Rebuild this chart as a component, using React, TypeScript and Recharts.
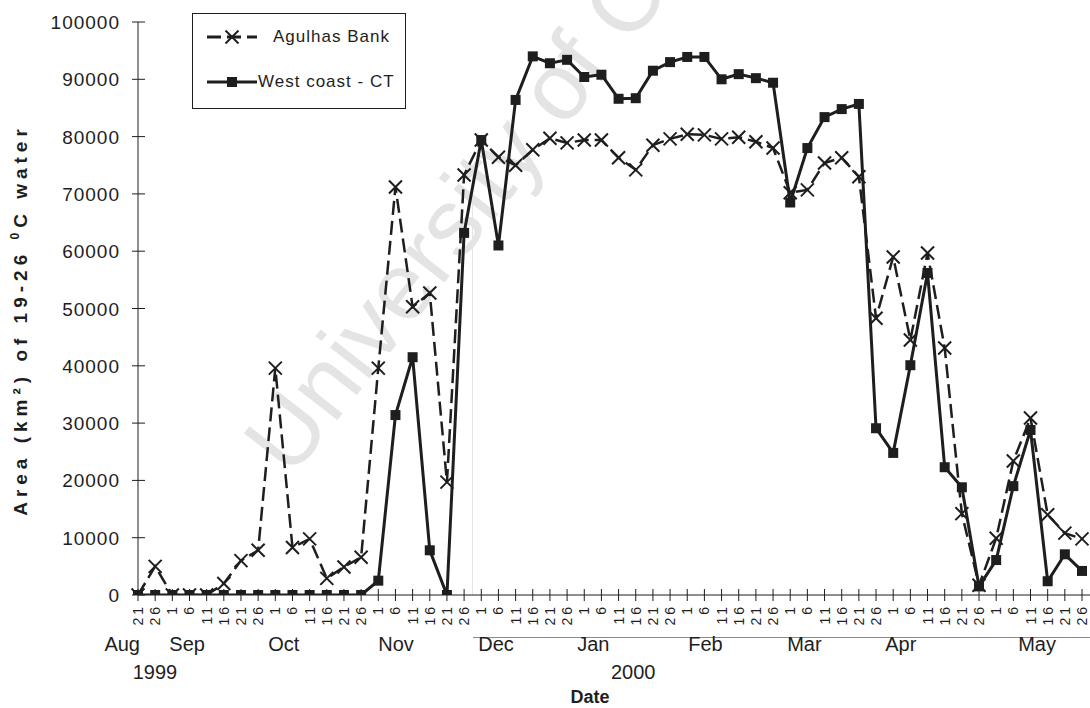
import React from "react";
import { Line, LineChart, XAxis, YAxis } from "recharts";

const dates = [
  "Aug 21", "Aug 26",
  "Sep 1", "Sep 6", "Sep 11", "Sep 16", "Sep 21", "Sep 26",
  "Oct 1", "Oct 6", "Oct 11", "Oct 16", "Oct 21", "Oct 26",
  "Nov 1", "Nov 6", "Nov 11", "Nov 16", "Nov 21", "Nov 26",
  "Dec 1", "Dec 6", "Dec 11", "Dec 16", "Dec 21", "Dec 26",
  "Jan 1", "Jan 6", "Jan 11", "Jan 16", "Jan 21", "Jan 26",
  "Feb 1", "Feb 6", "Feb 11", "Feb 16", "Feb 21", "Feb 26",
  "Mar 1", "Mar 6", "Mar 11", "Mar 16", "Mar 21", "Mar 26",
  "Apr 1", "Apr 6", "Apr 11", "Apr 16", "Apr 21", "Apr 26",
  "May 1", "May 6", "May 11", "May 16", "May 21", "May 26",
];

const agulhasBank = [
  0, 5000, 0, 0, 0, 2000, 6000, 7800,
  39600, 8300, 9800, 2900, 4900, 6600,
  39600, 71200, 50300, 52700, 19700, 73300,
  79400, 76400, 75000, 77700, 79700, 78900,
  79400, 79400, 76300, 74200, 78500, 79600,
  80400, 80300, 79600, 79900, 79100, 78000,
  70200, 70700, 75400, 76300, 73000, 48300,
  59000, 44500, 59700, 43100, 14200, 1700,
  9900, 23400, 30900, 14000, 10800, 9800,
];

const westCoastCT = [
  0, 0, 0, 0, 0, 0, 0, 0,
  0, 0, 0, 0, 0, 0,
  2500, 31400, 41500, 7800, 0, 63200,
  79400, 61000, 86400, 94000, 92800, 93400,
  90400, 90800, 86600, 86700, 91500, 93000,
  93900, 93900, 90000, 90900, 90200, 89400,
  68500, 78000, 83400, 84800, 85700, 29100,
  24800, 40100, 56200, 22300, 18800, 1500,
  6100, 19000, 28800, 2400, 7100, 4200,
];

const yTicks = [0, 10000, 20000, 30000, 40000, 50000, 60000, 70000, 80000, 90000, 100000];

const seriesNames = ["Agulhas Bank", "West coast - CT"];

// month names under the day ticks, hung on the first tick of each month
const monthLabels: Record<string, { text: string; dx: number; anchor: "start" | "end" }> = {
  "Aug 21": { text: "Aug", dx: 2, anchor: "end" },
  "Sep 1": { text: "Sep", dx: -3, anchor: "start" },
  "Oct 1": { text: "Oct", dx: -7, anchor: "start" },
  "Nov 1": { text: "Nov", dx: 0, anchor: "start" },
  "Dec 1": { text: "Dec", dx: -3, anchor: "start" },
  "Jan 1": { text: "Jan", dx: -7, anchor: "start" },
  "Feb 1": { text: "Feb", dx: 1, anchor: "start" },
  "Mar 1": { text: "Mar", dx: -3, anchor: "start" },
  "Apr 1": { text: "Apr", dx: -8, anchor: "start" },
  "May 1": { text: "May", dx: 22, anchor: "start" },
};

const yearLabels: Record<string, { text: string; dx: number }> = {
  "Aug 21": { text: "1999", dx: 17 },
  "Jan 1": { text: "2000", dx: 49 },
};

const data = dates.map((date, i) => ({
  date,
  agulhas: agulhasBank[i],
  west: westCoastCT[i],
}));

const INK = "#1e1e1e";
const FONT = "'Liberation Sans', Arial, Helvetica, sans-serif";

function CrossDot({ cx, cy }: any) {
  if (cx == null || cy == null) return null;
  const s = 6.5;
  return (
    <g stroke={INK} strokeWidth={2}>
      <line x1={cx - s} y1={cy - s} x2={cx + s} y2={cy + s} />
      <line x1={cx - s} y1={cy + s} x2={cx + s} y2={cy - s} />
    </g>
  );
}

function SquareDot({ cx, cy }: any) {
  if (cx == null || cy == null) return null;
  return <rect x={cx - 5} y={cy - 5} width={10} height={10} fill={INK} />;
}

function DayTick({ x, y, payload }: any) {
  const label: string = payload.value;
  const day = label.split(" ")[1];
  const month = monthLabels[label];
  const year = yearLabels[label];
  return (
    <g fontFamily={FONT} fill={INK}>
      <line x1={x} x2={x} y1={y - 6} y2={y + 6} stroke={INK} strokeWidth={1} />
      <text
        transform={`translate(${x + 5},${y + 9}) rotate(-90)`}
        textAnchor="end"
        fontSize={14}
        letterSpacing={3}
      >
        {day}
      </text>
      {month && (
        <text x={x + month.dx} y={y + 56} textAnchor={month.anchor} fontSize={20}>
          {month.text}
        </text>
      )}
      {year && (
        <text x={x + year.dx} y={y + 84} textAnchor="middle" fontSize={20}>
          {year.text}
        </text>
      )}
    </g>
  );
}

function AreaTick({ x, y, payload }: any) {
  return (
    <g fontFamily={FONT} fill={INK}>
      <line x1={x - 6} x2={x + 7} y1={y} y2={y} stroke={INK} strokeWidth={1} />
      <text x={x - 18} y={y + 7} textAnchor="end" fontSize={19} letterSpacing={1}>
        {payload.value}
      </text>
    </g>
  );
}

function LegendBox() {
  return (
    <div
      style={{
        position: "absolute",
        left: 192,
        top: 13,
        border: `1px solid ${INK}`,
        width: 214,
        height: 96,
        boxSizing: "border-box",
        fontFamily: FONT,
        fontSize: 17,
        color: INK,
      }}
    >
      {seriesNames.map((name, i) => {
        const isCross = i === 0;
        const top = i === 0 ? 10 : 55;
        return (
          <div key={name} style={{ position: "absolute", left: 14, top, height: 26, whiteSpace: "nowrap" }}>
            <svg width={52} height={26} style={{ position: "absolute", left: 0, top: 0 }}>
              <line x1={0} x2={50} y1={13} y2={13} stroke={INK} strokeWidth={3} strokeDasharray={isCross ? "14 6" : undefined} />
              {isCross ? <CrossDot cx={25} cy={13} /> : <SquareDot cx={25} cy={13} />}
            </svg>
            <span style={{ position: "absolute", left: isCross ? 66 : 51, top: 3, letterSpacing: 1 }}>{name}</span>
          </div>
        );
      })}
    </div>
  );
}

export default function App() {
  return (
    <div style={{ position: "absolute", left: 0, top: 0, width: 1090, height: 708, background: "#fff", overflow: "hidden" }}>
      <div
        style={{
          position: "absolute",
          left: 228,
          top: 430,
          transform: "rotate(-52deg)",
          transformOrigin: "0 0",
          fontFamily: FONT,
          fontSize: 95,
          lineHeight: 1,
          color: "#e4e4e4",
          whiteSpace: "nowrap",
        }}
      >
        University of Cape Town
      </div>
      <div style={{ position: "absolute", left: 472, top: 175, width: 1, height: 420, background: "#e4e4e4" }} />
      <div style={{ position: "absolute", left: 473, top: 637, width: 617, height: 1, background: "#8a8a8a" }} />
      <div style={{ position: "absolute", left: 0, top: 0 }}>
        <LineChart width={1090} height={708} data={data} margin={{ top: 22, right: 0, bottom: 73, left: 58 }}>
          <XAxis
            dataKey="date"
            interval={0}
            tick={<DayTick />}
            tickLine={false}
            tickSize={0}
            tickMargin={0}
            height={40}
            padding={{ left: 0, right: 8 }}
            stroke={INK}
          />
          <YAxis
            domain={[0, 100000]}
            ticks={yTicks}
            tick={<AreaTick />}
            tickLine={false}
            tickSize={0}
            tickMargin={0}
            width={80}
            stroke={INK}
            allowDataOverflow
          />
          <Line
            name={seriesNames[0]}
            dataKey="agulhas"
            stroke={INK}
            strokeWidth={2.5}
            strokeDasharray="14 6"
            dot={(p: any) => <CrossDot key={`a${p.index}`} {...p} />}
            activeDot={false}
            isAnimationActive={false}
          />
          <Line
            name={seriesNames[1]}
            dataKey="west"
            stroke={INK}
            strokeWidth={3}
            dot={(p: any) => <SquareDot key={`w${p.index}`} {...p} />}
            activeDot={false}
            isAnimationActive={false}
          />
        </LineChart>
      </div>
      <LegendBox />
      <div
        style={{
          position: "absolute",
          left: 22,
          top: 320,
          transform: "translate(-50%, -50%) rotate(-90deg)",
          whiteSpace: "nowrap",
          fontFamily: FONT,
          fontWeight: "bold",
          fontSize: 19,
          letterSpacing: 5,
          color: INK,
          lineHeight: "22px",
        }}
      >
        Area (km²) of 19-26 <span style={{ fontSize: 12, position: "relative", top: -8 }}>0</span>C water
      </div>
      <div
        style={{
          position: "absolute",
          left: 590,
          top: 688,
          transform: "translateX(-50%)",
          fontFamily: FONT,
          fontWeight: "bold",
          fontSize: 18,
          lineHeight: "18px",
          color: INK,
        }}
      >
        Date
      </div>
    </div>
  );
}
